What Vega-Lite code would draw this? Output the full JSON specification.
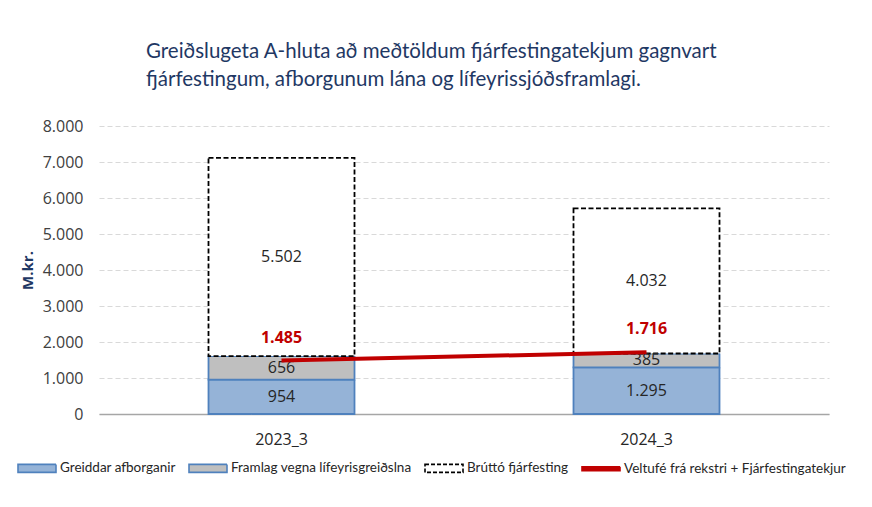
{
  "$schema": "https://vega.github.io/schema/vega-lite/v6.json",
  "width": 730,
  "height": 288,
  "autosize": {"type": "none"},
  "padding": {"left": 99, "top": 126, "right": 43, "bottom": 93},
  "background": "white",
  "config": {
    "view": {"stroke": null},
    "font": "Lato",
    "axisY": {
      "labelOverlap": false,
      "labelFont": "Open Sans",
      "labelFontSize": 16,
      "labelColor": "#404040",
      "labelPadding": 16,
      "ticks": false,
      "domain": false,
      "grid": true,
      "gridColor": "#D9D9D9",
      "gridDash": [5, 3],
      "gridWidth": 1,
      "titleFont": "Open Sans",
      "titleFontSize": 15,
      "titleFontWeight": "bold",
      "titleColor": "#1F3864",
      "titlePadding": 7
    }
  },
  "title": {
    "text": ["Greiðslugeta A-hluta að meðtöldum fjárfestingatekjum gagnvart", "fjárfestingum, afborgunum lána og lífeyrissjóðsframlagi."],
    "anchor": "start",
    "frame": "group",
    "dx": 47,
    "offset": 28,
    "fontSize": 20.5,
    "font": "Lato",
    "fontWeight": "normal",
    "color": "#1F3864",
    "lineHeight": 28
  },
  "data": {
    "values": [
      {"year": "2023_3", "series": "Greiddar afborganir", "value": 954, "ord": 1},
      {"year": "2023_3", "series": "Framlag vegna lífeyrisgreiðslna", "value": 656, "ord": 2},
      {"year": "2023_3", "series": "Brúttó fjárfesting", "value": 5502, "ord": 3},
      {"year": "2023_3", "series": "Veltufé frá rekstri + Fjárfestingatekjur", "value": 1485, "ord": 4},
      {"year": "2024_3", "series": "Greiddar afborganir", "value": 1295, "ord": 1},
      {"year": "2024_3", "series": "Framlag vegna lífeyrisgreiðslna", "value": 385, "ord": 2},
      {"year": "2024_3", "series": "Brúttó fjárfesting", "value": 4032, "ord": 3},
      {"year": "2024_3", "series": "Veltufé frá rekstri + Fjárfestingatekjur", "value": 1716, "ord": 4}
    ]
  },
  "resolve": {"axis": {"y": "independent"}},
  "encoding": {
    "x": {
      "field": "year",
      "type": "nominal",
      "scale": {"paddingInner": 0.6, "paddingOuter": 0.3},
      "axis": {
        "title": null,
        "labelAngle": 0,
        "labelFont": "Open Sans",
        "labelFontSize": 16,
        "labelColor": "#262626",
        "labelPadding": 17,
        "ticks": false,
        "domainColor": "#A6A6A6",
        "domainWidth": 1.5,
        "grid": false
      }
    }
  },
  "layer": [
    {
      "transform": [{"filter": "datum.series !== 'Veltufé frá rekstri + Fjárfestingatekjur'"}],
      "mark": {"type": "bar", "strokeWidth": 1.8},
      "encoding": {
        "y": {
          "field": "value",
          "type": "quantitative",
          "stack": "zero",
          "scale": {"domain": [0, 8000], "nice": false},
          "axis": {
            "title": "M.kr.",
            "values": [0, 1000, 2000, 3000, 4000, 5000, 6000, 7000, 8000],
            "labelExpr": "replace(format(datum.value, ','), ',', '.')"
          }
        },
        "color": {
          "field": "series",
          "type": "nominal",
          "scale": {
            "domain": ["Greiddar afborganir", "Framlag vegna lífeyrisgreiðslna", "Brúttó fjárfesting", "Veltufé frá rekstri + Fjárfestingatekjur"],
            "range": ["#95B3D7", "#BFBFBF", "#FFFFFF", "#C00000"]
          },
          "legend": {
            "title": null,
            "orient": "none",
            "legendX": -82,
            "legendY": 322,
            "direction": "horizontal",
            "symbolType": "M-1,-0.21H1V0.21H-1Z",
            "symbolSize": 1444,
            "symbolStrokeWidth": 1.5,
            "labelFont": "Lato",
            "labelFontSize": 13.5,
            "labelColor": "#262626",
            "labelOffset": 3,
            "columnPadding": 9,
            "labelLimit": 400,
            "encode": {
              "symbols": {
                "update": {
                  "shape": {"signal": "datum.value === 'Veltufé frá rekstri + Fjárfestingatekjur' ? 'M-1,-0.1H1V0.1H-1Z' : 'M-1,-0.21H1V0.21H-1Z'"},
                  "stroke": {"signal": "datum.value === 'Brúttó fjárfesting' ? '#000000' : (datum.value === 'Veltufé frá rekstri + Fjárfestingatekjur' ? '#C00000' : '#4F81BD')"},
                  "strokeDash": {"signal": "datum.value === 'Brúttó fjárfesting' ? [4, 2] : [1, 0]"},
                  "strokeWidth": {"value": 1.6},
                  "opacity": {"value": 1}
                }
              }
            }
          }
        },
        "stroke": {
          "field": "series",
          "type": "nominal",
          "scale": {
            "domain": ["Greiddar afborganir", "Framlag vegna lífeyrisgreiðslna", "Brúttó fjárfesting", "Veltufé frá rekstri + Fjárfestingatekjur"],
            "range": ["#4F81BD", "#4F81BD", "#000000", "#C00000"]
          },
          "legend": null
        },
        "strokeDash": {
          "field": "series",
          "type": "nominal",
          "scale": {
            "domain": ["Greiddar afborganir", "Framlag vegna lífeyrisgreiðslna", "Brúttó fjárfesting"],
            "range": [[1, 0], [1, 0], [5, 2.5]]
          },
          "legend": null
        },
        "order": {"field": "ord", "type": "quantitative"}
      }
    },
    {
      "transform": [
        {"filter": "datum.series !== 'Veltufé frá rekstri + Fjárfestingatekjur'"},
        {"stack": "value", "groupby": ["year"], "sort": [{"field": "ord", "order": "ascending"}], "as": ["v0", "v1"]},
        {"calculate": "(datum.v0 + datum.v1) / 2", "as": "mid"},
        {"calculate": "replace(format(datum.value, ','), ',', '.')", "as": "label"}
      ],
      "mark": {"type": "text", "font": "Open Sans", "fontSize": 16, "color": "#262626", "baseline": "middle"},
      "encoding": {
        "y": {"field": "mid", "type": "quantitative", "axis": null},
        "text": {"field": "label", "type": "nominal"}
      }
    },
    {
      "transform": [{"filter": "datum.series === 'Veltufé frá rekstri + Fjárfestingatekjur'"}],
      "mark": {"type": "line", "strokeWidth": 4, "strokeCap": "butt"},
      "encoding": {
        "y": {"field": "value", "type": "quantitative", "axis": null},
        "stroke": {"field": "series", "type": "nominal", "legend": null}
      }
    },
    {
      "transform": [
        {"filter": "datum.series === 'Veltufé frá rekstri + Fjárfestingatekjur'"},
        {"calculate": "replace(format(datum.value, ','), ',', '.')", "as": "label"}
      ],
      "mark": {"type": "text", "font": "Open Sans", "fontSize": 16, "fontWeight": "bold", "color": "#C00000", "baseline": "middle", "dy": -23},
      "encoding": {
        "y": {"field": "value", "type": "quantitative", "axis": null},
        "text": {"field": "label", "type": "nominal"}
      }
    }
  ]
}
